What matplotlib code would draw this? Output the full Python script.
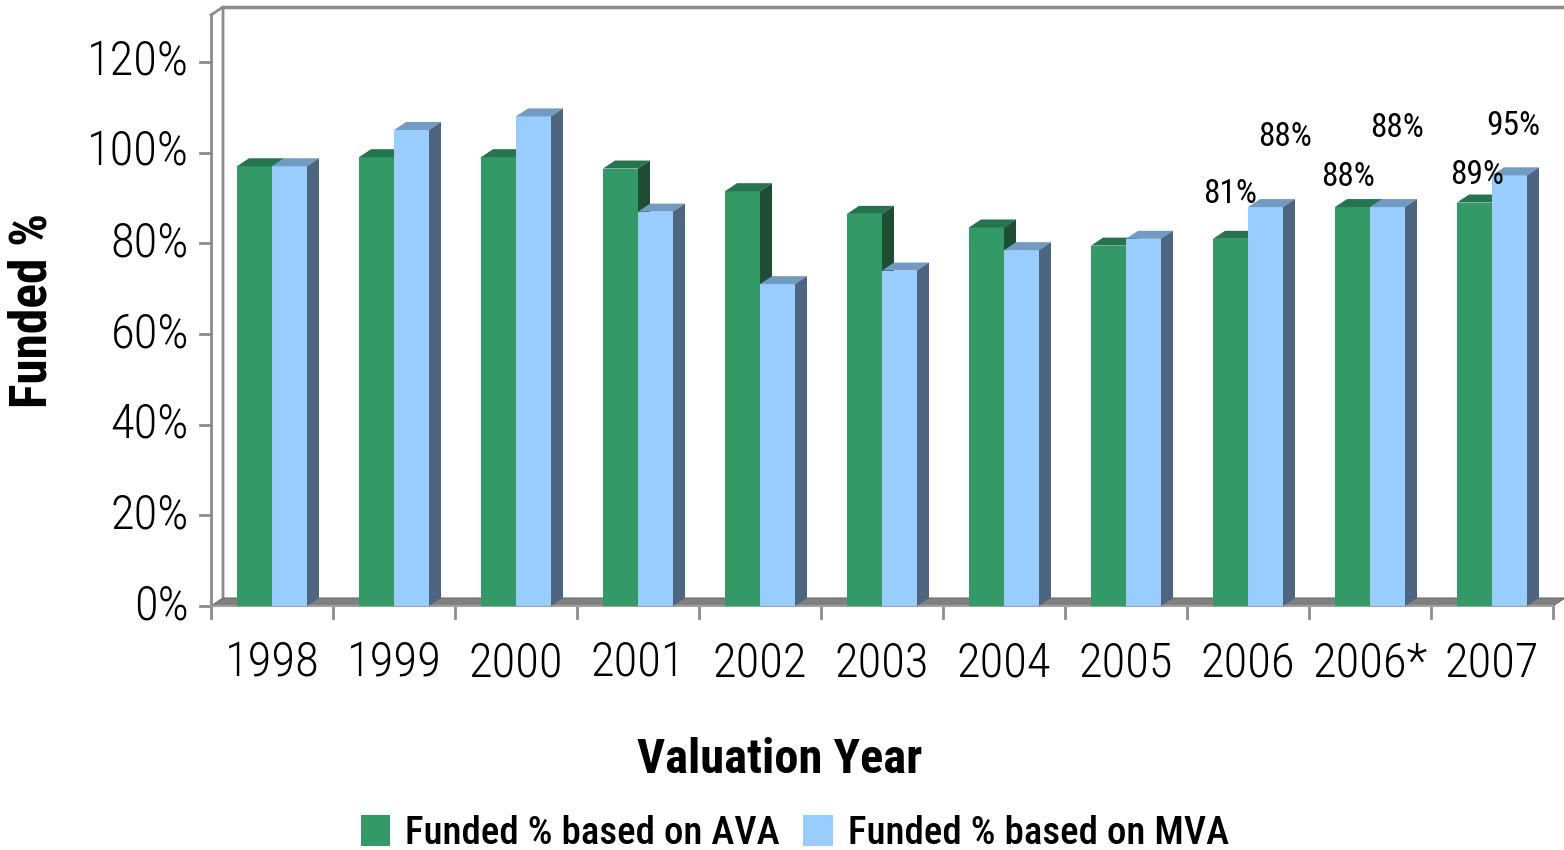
import numpy as np
import matplotlib
matplotlib.use("Agg")
import matplotlib.pyplot as plt
from matplotlib.patches import Polygon, Rectangle

plt.rcParams['font.family'] = ['Roboto Condensed', 'PT Sans Narrow',
                               'Archivo Narrow', 'DejaVu Sans']

# ── data ─────────────────────────────────────────────
years = ["1998", "1999", "2000", "2001", "2002", "2003", "2004",
         "2005", "2006", "2006*", "2007"]
ava = [97, 99, 99, 96.5, 91.5, 86.5, 83.5, 79.5, 81, 88, 89]
mva = [97, 105, 108, 87, 71, 74, 78.5, 81, 88, 88, 95]
labelled = [8, 9, 10]   # categories carrying data labels

# ── style ────────────────────────────────────────────
GREEN, GREEN_TOP, GREEN_SIDE = "#339966", "#267350", "#1e4d33"
BLUE, BLUE_TOP, BLUE_SIDE = "#99ccff", "#729bc2", "#4d6580"
FRAME = "#8c8c8c"
FLOOR = "#808080"

W, H, DPI = 1564, 850, 100
fig = plt.figure(figsize=(W / DPI, H / DPI), dpi=DPI, facecolor="white")

# pixel geometry of plot area
X0, X1 = 211, 1553
Y0, YTOP = 606, 7
PX_PER_PCT = (606 - 62) / 120.0
ymax = (Y0 - YTOP) / PX_PER_PCT
ax = fig.add_axes([X0 / W, 1 - Y0 / H, (X1 - X0) / W, (Y0 - YTOP) / H])
n = len(years)
ax.set_xlim(-0.5, n - 0.5)
ax.set_ylim(0, ymax)
px_x = n / (X1 - X0)            # data units per pixel (x)
px_y = 1 / PX_PER_PCT           # data units per pixel (y)
DX, DY = 12 * px_x, 8 * px_y    # depth offset
BW = 35 * px_x                  # bar width

for s in ax.spines.values():
    s.set_visible(False)
ax.set_xticks([])
ax.set_yticks([])

# frame: back wall, left axis, floor
ax.plot([-0.5, -0.5 + DX, -0.5 + DX], [(Y0 - 15) * px_y, ymax, DY],
        color=FRAME, lw=2, clip_on=False, zorder=1)
ax.plot([-0.5, -0.5], [0, (Y0 - 15) * px_y], color=FRAME, lw=2,
        clip_on=False, zorder=1)
ax.plot([-0.5 + DX, n - 0.5 + DX + 1], [ymax, ymax], color=FRAME, lw=2.5,
        clip_on=False, zorder=1)
ax.add_patch(Polygon([(-0.5, 0), (n - 0.5, 0), (n - 0.5 + DX, DY),
                      (-0.5 + DX, DY)], closed=True, facecolor=FLOOR,
                     edgecolor="#6e6e6e", lw=0.8, clip_on=False, zorder=1.5))
ax.plot([-0.5, n - 0.5], [0, 0], color="#a0a0a0", lw=1.5, clip_on=False, zorder=1.6)

# category tick marks
for k in range(n + 1):
    ax.plot([k - 0.5, k - 0.5], [0, -12 * px_y], color=FRAME, lw=2,
            clip_on=False, zorder=1)
# value ticks + labels
for v in range(0, 121, 20):
    ax.plot([-0.5 - 11 * px_x, -0.5], [v, v], color=FRAME, lw=2,
            clip_on=False, zorder=1)
    ax.text(-0.5 - 22 * px_x, v, f"{v}%", ha="right", va="center",
            fontsize=35, fontweight="light", clip_on=False)
for k, yr in enumerate(years):
    ax.text(k, -57 * px_y, yr, ha="center", va="center", fontsize=35,
            fontweight="light")


def bar3d(x0, v, front, top, side, z):
    x1 = x0 + BW
    ax.add_patch(Rectangle((x0, 0), BW, v, facecolor=front, edgecolor="none",
                           zorder=z, clip_on=False))
    ax.add_patch(Polygon([(x0, v), (x1, v), (x1 + DX, v + DY), (x0 + DX, v + DY)],
                         closed=True, facecolor=top, edgecolor="none",
                         zorder=z, clip_on=False))
    ax.add_patch(Polygon([(x1, 0), (x1 + DX, DY), (x1 + DX, v + DY), (x1, v)],
                         closed=True, facecolor=side, edgecolor="none",
                         zorder=z, clip_on=False))


for k in range(n):
    bar3d(k - BW, ava[k], GREEN, GREEN_TOP, GREEN_SIDE, 3 + k * 0.01)
    bar3d(k, mva[k], BLUE, BLUE_TOP, BLUE_SIDE, 3.005 + k * 0.01)

# data labels (offsets in px from the top-centre of each bar)
ava_off = {8: (0, 45), 9: (-4, 30), 10: (3, 28)}
mva_off = {8: (20, 70), 9: (10, 79), 10: (4, 49)}
for k in labelled:
    ax.annotate(f"{ava[k]:.0f}%", (k - BW / 2, ava[k]), xytext=ava_off[k],
                textcoords="offset pixels", ha="center", va="center",
                fontsize=24, zorder=10, annotation_clip=False)
    ax.annotate(f"{mva[k]:.0f}%", (k + BW / 2, mva[k]), xytext=mva_off[k],
                textcoords="offset pixels", ha="center", va="center",
                fontsize=24, zorder=10, annotation_clip=False)

fig.text(33 / W, 1 - 310 / H, "Funded %", rotation=90, ha="center",
         va="center", fontsize=37, fontweight="semibold")
fig.text(780 / W, 1 - 760 / H, "Valuation Year", ha="center", va="center",
         fontsize=35, fontweight="semibold")

handles = [Rectangle((0, 0), 1, 1, facecolor=GREEN),
           Rectangle((0, 0), 1, 1, facecolor=BLUE)]
fig.legend(handles, ["Funded % based on AVA", "Funded % based on MVA"],
           loc="center", bbox_to_anchor=(795 / W, 1 - 833 / H), ncol=2,
           frameon=False, handlelength=0.75, handleheight=0.85,
           handletextpad=0.4, columnspacing=0.6, borderpad=0,
           prop={"weight": "medium", "size": 28})

fig.savefig("out.png", dpi=DPI, facecolor="white")
